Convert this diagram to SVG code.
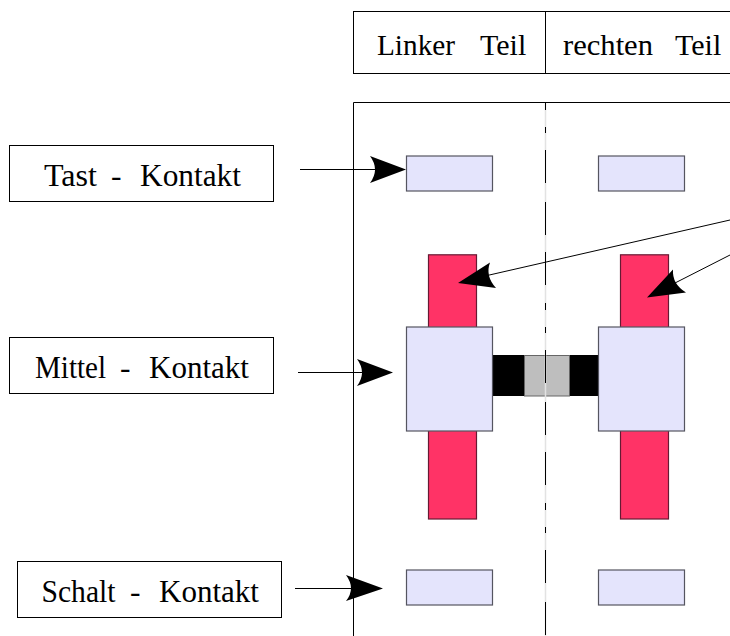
<svg xmlns="http://www.w3.org/2000/svg" width="730" height="636" viewBox="0 0 730 636">
<style>
text{font-family:"Liberation Serif","Times New Roman",serif;font-size:30px;fill:#000}
.t{font-size:31.500px}
.b{fill:#fff;stroke:#000;stroke-width:1}
.l{fill:#e4e4fc;stroke:#555560;stroke-width:1.200}
.r{fill:#ff3366;stroke:#661a33;stroke-width:1.200}
.c{fill:none;stroke:#000;stroke-width:1}
.h{fill:#000}
</style>
<rect width="730" height="636" fill="#fff"/>
<g id="header">
<rect class="b" x="353.500" y="11.500" width="400" height="62"/>
<line class="c" x1="545.500" y1="11.500" x2="545.500" y2="73.500"/>
<text y="55"><tspan x="377" textLength="78" lengthAdjust="spacingAndGlyphs">Linker</tspan> <tspan x="480">Teil</tspan></text>
<text y="55"><tspan x="563" textLength="90" lengthAdjust="spacingAndGlyphs">rechten</tspan> <tspan x="675">Teil</tspan></text>
</g>
<g id="bar-left-top"><rect class="r" x="428.500" y="254.800" width="48" height="73"/></g>
<g id="bar-left-bottom"><rect class="r" x="428.500" y="430" width="48" height="89"/></g>
<g id="bar-right-top"><rect class="r" x="620.500" y="254.800" width="48" height="73"/></g>
<g id="bar-right-bottom"><rect class="r" x="620.500" y="430" width="48" height="89"/></g>
<g id="bridge">
<rect x="492" y="355" width="107" height="41" fill="#000"/>
<rect x="524.500" y="355.500" width="45" height="40.500" fill="#bebebe" stroke="#666" stroke-width="1"/>
</g>
<g id="frame">
<path class="c" d="M730 102.500H353.500V636"/>
<line x1="545.500" y1="103" x2="545.500" y2="636" stroke="#e2e2e2" stroke-width="1.500"/>
<line x1="545.500" y1="103" x2="545.500" y2="636" stroke="#000" stroke-width="1" stroke-dasharray="7 17 6 17 33 19 33 17 33 18"/>
</g>
<g id="tast-left"><rect class="l" x="406.500" y="156" width="86" height="35"/></g>
<g id="tast-right"><rect class="l" x="598.500" y="156" width="86" height="35"/></g>
<g id="mittel-left"><rect class="l" x="406.500" y="327" width="86" height="104"/></g>
<g id="mittel-right"><rect class="l" x="598.500" y="327" width="86" height="104"/></g>
<g id="schalt-left"><rect class="l" x="406.500" y="570" width="86" height="35"/></g>
<g id="schalt-right"><rect class="l" x="598.500" y="570" width="86" height="35"/></g>
<g id="label-tast">
<rect class="b" x="9.500" y="145.500" width="264" height="56"/>
<text class="t" y="186"><tspan x="44" textLength="53" lengthAdjust="spacingAndGlyphs">Tast</tspan> <tspan x="111">-</tspan> <tspan x="140" textLength="101" lengthAdjust="spacingAndGlyphs">Kontakt</tspan></text>
</g>
<g id="label-mittel">
<rect class="b" x="9.500" y="337.500" width="264" height="56"/>
<text class="t" y="378"><tspan x="35" textLength="71" lengthAdjust="spacingAndGlyphs">Mittel</tspan> <tspan x="120">-</tspan> <tspan x="149" textLength="100" lengthAdjust="spacingAndGlyphs">Kontakt</tspan></text>
</g>
<g id="label-schalt">
<rect class="b" x="17.500" y="561.500" width="264" height="56"/>
<text class="t" y="602"><tspan x="41.500" textLength="74" lengthAdjust="spacingAndGlyphs">Schalt</tspan> <tspan x="130">-</tspan> <tspan x="159" textLength="100" lengthAdjust="spacingAndGlyphs">Kontakt</tspan></text>
</g>
<g id="connectors">
<line class="c" x1="300" y1="169.500" x2="380" y2="169.500"/>
<path class="h" d="M406 169.500L370 156Q380 169.500 370 183Z"/>
<line class="c" x1="298" y1="372.500" x2="370" y2="372.500"/>
<path class="h" d="M393 372.500L357 359Q367 372.500 357 386Z"/>
<line class="c" x1="295" y1="588.500" x2="360" y2="588.500"/>
<path class="h" d="M383 588.500L346 575Q356 588.500 346 601Z"/>
<line class="c" x1="730" y1="220" x2="485" y2="276"/>
<path class="h" d="M458 283L490 262.500Q485 276 496 288Z"/>
<line class="c" x1="730" y1="255" x2="675" y2="283"/>
<path class="h" d="M647 297.500L673 269.500Q672 284 686 292.500Z"/>
</g>
</svg>
